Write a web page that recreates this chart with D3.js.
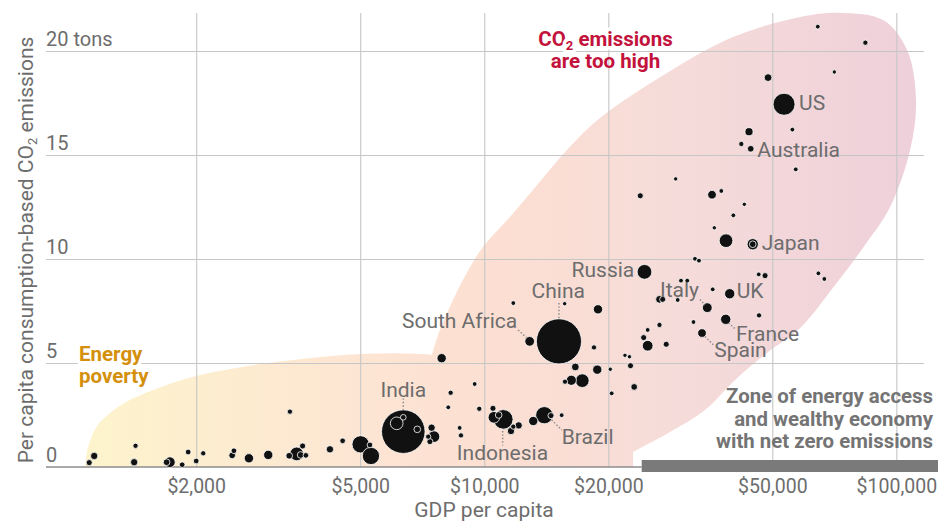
<!DOCTYPE html>
<html><head><meta charset="utf-8">
<script src="https://cdn.jsdelivr.net/npm/d3@7"></script>
<style>
html,body{margin:0;padding:0;background:#fff;}
svg{display:block;font-family:Roboto,"Liberation Sans",sans-serif;}
</style></head><body>
<svg id="chart" width="938" height="525"></svg>
<script>
// ---------- DATA ----------
const countryNames = ["","","","","","","","","","","","","","","","","","","","","","","","","","","India","","","","","","","","","","","","","","","","","Indonesia","","","","","South Africa","","Brazil","","China","","","","","","","","","","","","","","","","","","Russia","","","","","","","","","","","","","","Spain","Italy","","","","","France","","UK","","","","","Australia","Japan","","","","","","US","","","","","","",""];
const gdpPerCapita = [1100,1131,1414,1425,1726,1695,1849,1912,2000,2080,2445,2469,2685,2991,3363,3376,3506,3584,3624,3691,4222,4532,5012,5279,5309,6131,6361,6361,6878,7312,7381,7451,7548,7882,8178,8288,8716,8779,9478,9725,10498,10556,10839,11121,11610,11761,11761,12119,12888,13149,13985,14519,15179,15411,15673,15701,16266,16635,17293,18460,18803,18880,20220,20380,21950,22510,22640,23110,23910,24370,24480,24920,24920,26620,26620,27100,27640,29140,29470,30020,31090,32190,32460,33190,33760,34770,35700,35840,36160,37600,38540,38610,39410,40220,42050,42760,43900,44320,44820,44820,46350,46430,48010,48830,53390,55930,57000,64460,64680,66870,70720,84100];
const co2PerCapita = [0.21,0.53,0.23,1.02,0.23,0.23,0.11,0.72,0.29,0.66,0.56,0.78,0.42,0.58,0.54,2.66,0.63,0.58,1.01,0.56,0.85,1.26,1.09,1.06,0.53,2.10,1.70,2.39,1.81,1.46,1.22,1.89,1.46,5.23,2.87,3.57,1.88,1.52,3.99,2.80,2.82,2.39,2.50,2.29,1.73,1.94,7.88,2.00,6.04,2.21,2.49,2.47,6.04,2.49,7.85,4.10,4.17,4.81,4.15,5.75,4.68,7.58,4.70,3.54,5.37,5.30,4.87,3.85,13.04,6.22,9.38,6.59,5.83,6.83,8.06,8.06,5.90,13.85,8.03,8.96,8.96,6.97,10.01,9.92,6.44,7.66,13.09,8.54,11.50,13.27,7.10,10.88,8.33,12.10,15.53,12.63,16.12,15.30,10.71,10.71,9.26,7.29,9.20,18.72,17.44,16.22,14.31,21.17,9.31,9.04,18.99,20.40];
const populationM = [21,32,32,15,73,26,18,18,18,15,26,18,54,54,26,15,123,26,21,18,32,18,201,18,201,105,1340,18,26,15,21,32,88,54,12,15,12,15,12,15,21,88,26,260,32,15,12,32,59,54,200,21,1440,12,9.5,15,65,36,123,15,54,54,9.5,12,9.5,9.5,21,26,21,21,144,12,73,15,36,21,21,9.5,12,12,12,12,12,12,47,60,47,12,9.5,12,67,123,67,12,15,9.5,40,26,82,26,12,15,21,36,331,12,12,12,12,12,9.5,15];

const xTickValues = [2000,5000,10000,20000,50000,100000];
const xTickLabels = ["$2,000","$5,000","$10,000","$20,000","$50,000","$100,000"];
const yTickValues = [0,5,10,15,20];
const yTickLabels = ["0","5","10","15","20 tons"];

// zone outlines in data units [GDP per capita, tons]
const energyPovertyOutline = [[1074,0],[1094,0.98],[1146,1.94],[1234,2.58],[1355,3.14],[1573,3.70],[1967,4.34],[2600,4.82],[3439,5.14],[4548,5.38],[6014,5.47],[7464,5.40]];
const highEmissionsOutline = [[7464,5.40],[7806,6.59],[8877,8.99],[9927,10.58],[11544,12.02],[13130,13.32],[15875,15.24],[19093,16.78],[27762,18.94],[40146,20.67],[58390,21.63],[73010,21.83],[92840,21.49],[106170,20.05],[111620,17.64],[107970,15.24],[96540,12.5],[83950,10.67],[71000,8.75],[58390,6.68],[48500,5.48],[40600,4.18],[34340,2.74],[28230,1.68],[22960,0.72]];
const netZeroZoneStartGdp = 24100;

// ---------- LAYOUT ----------
const W = 938, H = 525;
const svg = d3.select("#chart");
const x = d3.scaleLog().domain([864, 116700]).range([46, 924]);
const y = d3.scaleLinear().domain([0, 22]).range([467, 9.4]);
const r = d3.scaleSqrt().domain([0, 1400]).range([0, 21.9]);
const GRAY = "#6d6d6d";

const data = countryNames.map((n,i)=>({name:n, gdp:gdpPerCapita[i], co2:co2PerCapita[i], pop:populationM[i]}));

// gradient
const defs = svg.append("defs");
const grad = defs.append("linearGradient").attr("id","zoneGrad")
  .attr("gradientUnits","userSpaceOnUse").attr("x1",85).attr("x2",916).attr("y1",0).attr("y2",0);
[["0","#fdf4cc"],["0.33","#fde5d3"],["0.5","#fcdfd2"],["0.7","#f6dcd9"],["1","#eed0da"]]
  .forEach(s=>grad.append("stop").attr("offset",s[0]).attr("stop-color",s[1]));

// zones
const zoneLine = d3.line().x(d=>x(d[0])).y(d=>y(d[1])).curve(d3.curveCatmullRom.alpha(0.5));
const p1 = zoneLine(energyPovertyOutline);
const p2 = zoneLine(highEmissionsOutline).replace(/^M/,"L");
const last = highEmissionsOutline[highEmissionsOutline.length-1];
svg.append("path")
  .attr("d", p1 + p2 + "L" + x(last[0]) + "," + y(0) + "Z")
  .attr("fill","url(#zoneGrad)");

// vertical grid
svg.append("g").attr("transform",`translate(0,${y(0)})`)
  .call(d3.axisBottom(x).tickValues(xTickValues).tickSize(-(y(0)-13)).tickFormat(""))
  .call(g=>g.select(".domain").remove())
  .call(g=>g.selectAll("line").attr("stroke","#c6c6c6").attr("stroke-width",1.1));

// horizontal grid
svg.append("g").attr("transform",`translate(${x.range()[0]},0)`)
  .call(d3.axisLeft(y).tickValues(yTickValues.filter(v=>v>0)).tickSize(-(x.range()[1]-x.range()[0])).tickFormat(""))
  .call(g=>g.select(".domain").remove())
  .call(g=>g.selectAll("line").attr("stroke","#c6c6c6").attr("stroke-width",1.1));

// x tick labels
svg.append("g").attr("transform",`translate(0,${y(0)})`)
  .call(d3.axisBottom(x).tickValues(xTickValues).tickSize(0).tickPadding(12).tickFormat((d,i)=>xTickLabels[i]))
  .call(g=>g.select(".domain").remove())
  .call(g=>g.selectAll("text").attr("font-size",19.5).attr("fill",GRAY).attr("font-family","Roboto"));

// y tick labels
svg.append("g").attr("transform",`translate(${x.range()[0]},0)`)
  .call(d3.axisRight(y).tickValues(yTickValues).tickSize(0).tickPadding(0).tickFormat((d,i)=>yTickLabels[i]))
  .call(g=>g.select(".domain").remove())
  .call(g=>g.selectAll("text").attr("dy","-0.27em").attr("font-size",20).attr("fill",GRAY).attr("font-family","Roboto"));

// baseline
svg.append("line").attr("x1",x.range()[0]).attr("x2",x(netZeroZoneStartGdp))
  .attr("y1",y(0)).attr("y2",y(0)).attr("stroke","#8c8c8c").attr("stroke-width",1.7);

// net zero zone bar
svg.append("rect").attr("x",x(netZeroZoneStartGdp)).attr("y",y(0)-7)
  .attr("width",W-x(netZeroZoneStartGdp)).attr("height",12).attr("fill","#7a7a7a");
const zoneText = svg.append("text").attr("text-anchor","end").attr("font-weight",700)
  .attr("font-size",20.4).attr("fill","#747474");
["Zone of energy access","and wealthy economy","with net zero emissions"].forEach((t,i)=>
  zoneText.append("tspan").attr("x",933).attr("y",403.3+i*22.5).text(t));

// bubbles
const sorted = data.slice().sort((a,b)=>b.pop-a.pop);
svg.append("g").selectAll("circle").data(sorted).join("circle")
  .attr("cx",d=>x(d.gdp)).attr("cy",d=>y(d.co2)).attr("r",d=>r(d.pop)+0.35)
  .attr("fill","#111").attr("stroke","#fff").attr("stroke-width",0.8);

// labels
const labelPlacement = {
  "US":{dx:15,dy:5.7,a:"start"},
  "Australia":{dx:6.6,dy:7.8,a:"start"},
  "Japan":{dx:9,dy:5.7,a:"start"},
  "Russia":{dx:-10.2,dy:4.9,a:"end"},
  "China":{dx:-0.7,dy:-43,a:"middle",lead:[[0,-38.3],[0,-22.8]]},
  "South Africa":{dx:-12.4,dy:-13,a:"end",lead:[[-11.4,-11.3],[-3.2,-3.8]]},
  "Italy":{dx:-8.3,dy:-10.4,a:"end",lead:[[-7.3,-8.2],[-2.3,-2.7]]},
  "UK":{dx:7,dy:4.6,a:"start"},
  "France":{dx:10.3,dy:21.7,a:"start",lead:[[2.8,3.7],[10.3,10.2]]},
  "Spain":{dx:12.3,dy:24.3,a:"start",lead:[[3,3.5],[11.5,12]]},
  "India":{dx:0,dy:-35,a:"middle",lead:[[0,-33.2],[0,-22.2]]},
  "Indonesia":{dx:-0.8,dy:40.7,a:"middle",lead:[[-0.6,11.7],[-0.6,26.2]]},
  "Brazil":{dx:17.4,dy:28.7,a:"start",lead:[[7.4,4.7],[17.4,14.7]]}
};
const labeled = data.filter(d=>d.name && labelPlacement[d.name]);
svg.append("g").selectAll("line").data(labeled.filter(d=>labelPlacement[d.name].lead)).join("line")
  .attr("x1",d=>x(d.gdp)+labelPlacement[d.name].lead[0][0])
  .attr("y1",d=>y(d.co2)+labelPlacement[d.name].lead[0][1])
  .attr("x2",d=>x(d.gdp)+labelPlacement[d.name].lead[1][0])
  .attr("y2",d=>y(d.co2)+labelPlacement[d.name].lead[1][1])
  .attr("stroke","#8a8a8a").attr("stroke-width",1.5).attr("stroke-dasharray","1.4,2");
svg.append("g").selectAll("text").data(labeled).join("text")
  .attr("x",d=>x(d.gdp)+labelPlacement[d.name].dx)
  .attr("y",d=>y(d.co2)+labelPlacement[d.name].dy)
  .attr("text-anchor",d=>labelPlacement[d.name].a)
  .attr("font-size",21).attr("fill",GRAY).text(d=>d.name);

// axis titles
svg.append("text").attr("x",484).attr("y",516.7).attr("text-anchor","middle")
  .attr("font-size",21).attr("fill",GRAY).text("GDP per capita");
const yt = svg.append("text").attr("transform","translate(33,250) rotate(-90)")
  .attr("text-anchor","middle").attr("font-size",21).attr("fill",GRAY);
yt.append("tspan").text("Per capita consumption-based CO");
yt.append("tspan").attr("font-size",13).attr("dy",4).text("2");
yt.append("tspan").attr("dy",-4).text(" emissions");

// annotations
const ep = svg.append("g").attr("font-weight",700).attr("font-size",20.5).attr("fill","#d4900c");
ep.append("text").attr("x",79).attr("y",360.7).attr("stroke","#fff").attr("stroke-width",7)
  .attr("stroke-linejoin","round").attr("paint-order","stroke").text("Energy");
ep.append("text").attr("x",79).attr("y",382.7).text("poverty");

const hi = svg.append("g").attr("font-weight",700).attr("font-size",20.5).attr("fill","#c3123c").attr("text-anchor","middle");
const l1 = hi.append("text").attr("x",605.5).attr("y",45.7).attr("stroke","#fff").attr("stroke-width",7)
  .attr("stroke-linejoin","round").attr("paint-order","stroke");
l1.append("tspan").text("CO");
l1.append("tspan").attr("font-size",13).attr("dy",4).text("2");
l1.append("tspan").attr("dy",-4).text(" emissions");
hi.append("text").attr("x",605.5).attr("y",68.3).text("are too high");
</script>
</body></html>
